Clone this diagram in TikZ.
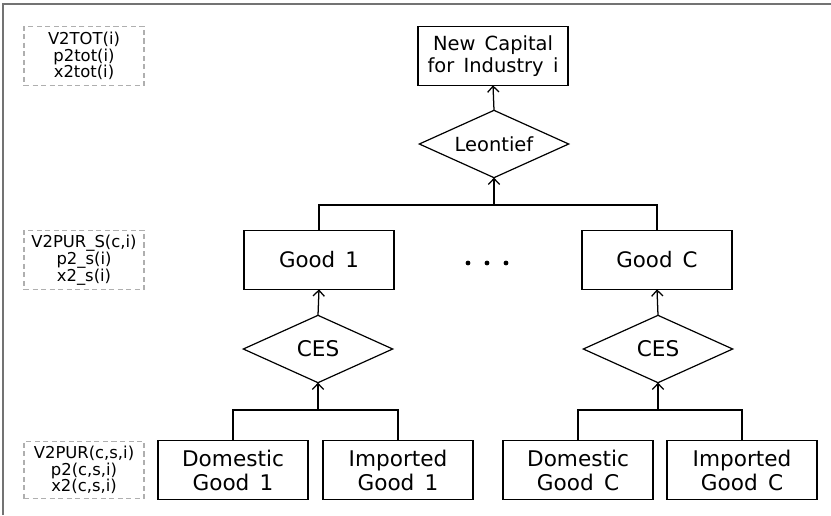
\documentclass[tikz,border=0pt]{standalone}
\usepackage{fontspec}
\setmainfont{DejaVu Sans}[WordSpace=1.5]
\usetikzlibrary{shapes.geometric,arrows.meta}

\definecolor{framegray}{RGB}{115,115,115}
\definecolor{notegray}{RGB}{175,175,175}

\tikzset{
  box/.style={draw, line width=0.9pt, rectangle, minimum width=112.5pt,
    minimum height=44pt, inner sep=0pt, outer sep=0pt, align=center},
  gate/.style={draw, line width=0.9pt, diamond, aspect=2.2, minimum width=112pt,
    minimum height=50.5pt, inner sep=0pt, outer sep=0pt},
  note/.style={draw=notegray, line width=0.8pt, dash pattern=on 3.8pt off 2.6pt,
    rectangle, minimum width=90pt, minimum height=44.5pt, inner sep=0pt,
    align=center, font=\fontsize{12.3}{12.6}\selectfont},
  link/.style={line width=0.95pt},
  up/.style={link, -{Straight Barb[length=4.4pt,width=8.5pt,line width=0.95pt]}},
  fbig/.style={font=\fontsize{16.2}{18}\selectfont},
  fmid/.style={font=\fontsize{16}{18}\selectfont},
  ftop/.style={font=\fontsize{14.6}{16}\selectfont},
}

\begin{document}
\begin{tikzpicture}[x=0.75pt,y=-0.75pt]
\useasboundingbox (0,0) rectangle (831,515);

% outer frame (top and left edges)
\draw[framegray, line width=1.5pt] (3,515) -- (3,4) -- (831,4);

% variable notes
\node[note] (n1) at (84,56) {V2TOT(i)\\p2tot(i)\\x2tot(i)};
\node[note] (n2) at (84,260) {V2PUR\_S(c,i)\\p2\_s(i)\\x2\_s(i)};
\node[note, minimum height=43pt] (n3) at (84,470) {V2PUR(c,s,i)\\p2(c,s,i)\\x2(c,s,i)};

% top level
\node[box, ftop] (cap) at (493,56) {New Capital\\for Industry i};
\node[gate, ftop] (leon) at (494,144) {Leontief};

% composite goods
\node[box, fmid] (g1) at (319,260) {Good 1};
\node[box, fmid] (gC) at (657,260) {Good C};

\fill (468,263) circle (2.4) (487,263) circle (2.4) (506,263) circle (2.4);

% CES nests
\node[gate, fbig] (ces1) at (318,349) {CES};
\node[gate, fbig] (cesC) at (658,349) {CES};

% sources
\node[box, fbig] (d1) at (233,470) {Domestic\\Good 1};
\node[box, fbig] (i1) at (398,470) {Imported\\Good 1};
\node[box, fbig] (dC) at (578,470) {Domestic\\Good C};
\node[box, fbig] (iC) at (742,470) {Imported\\Good C};

% joins
\coordinate (j1) at (318,410);
\coordinate (jC) at (658,410);
\coordinate (jt) at (494,205);

\draw[link] (d1.north) |- (j1) -| (i1.north);
\draw[up] (j1) -- (ces1.south);
\draw[up] (ces1.north) -- (g1.south);

\draw[link] (dC.north) |- (jC) -| (iC.north);
\draw[up] (jC) -- (cesC.south);
\draw[up] (cesC.north) -- (gC.south);

\draw[link] (g1.north) |- (jt) -| (gC.north);
\draw[up] (jt) -- (leon.south);
\draw[up] (leon.north) -- (cap.south);
\end{tikzpicture}
\end{document}
